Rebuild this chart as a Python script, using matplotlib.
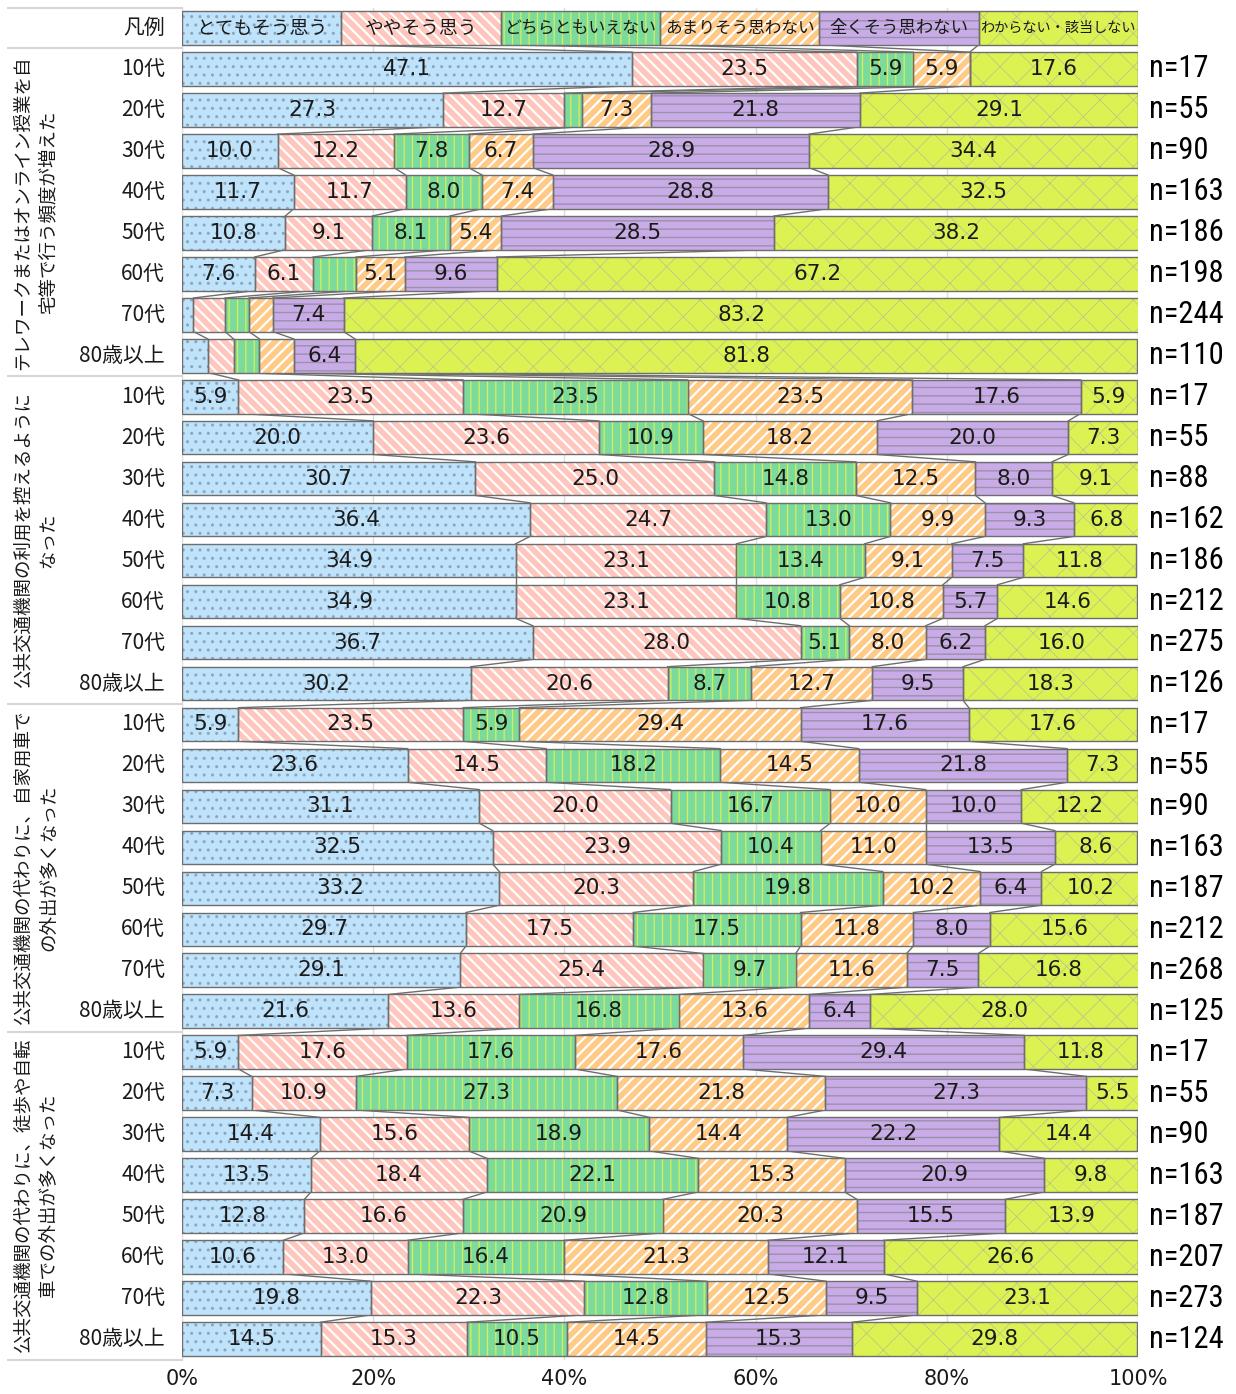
import numpy as np
import matplotlib as mpl
import matplotlib.pyplot as plt
import matplotlib.transforms as mtransforms

plt.rcParams['font.family'] = ['Noto Sans CJK JP', 'DejaVu Sans']

categories = ['とてもそう思う', 'ややそう思う', 'どちらともいえない',
              'あまりそう思わない', '全くそう思わない', 'わからない・該当しない']
ages = ['10代', '20代', '30代', '40代', '50代', '60代', '70代', '80歳以上']
groups = ['テレワークまたはオンライン授業を自\n宅等で行う頻度が増えた',
          '公共交通機関の利用を控えるように\nなった',
          '公共交通機関の代わりに、自家用車で\nの外出が多くなった',
          '公共交通機関の代わりに、徒歩や自転\n車での外出が多くなった']

telework = [[47.1, 23.5, 5.9, 5.9, 0.0, 17.6],
            [27.3, 12.7, 1.8, 7.3, 21.8, 29.1],
            [10.0, 12.2, 7.8, 6.7, 28.9, 34.4],
            [11.7, 11.7, 8.0, 7.4, 28.8, 32.5],
            [10.8, 9.1, 8.1, 5.4, 28.5, 38.2],
            [7.6, 6.1, 4.5, 5.1, 9.6, 67.2],
            [1.2, 3.3, 2.5, 2.5, 7.4, 83.2],
            [2.7, 2.7, 2.7, 3.6, 6.4, 81.8]]
transit = [[5.9, 23.5, 23.5, 23.5, 17.6, 5.9],
           [20.0, 23.6, 10.9, 18.2, 20.0, 7.3],
           [30.7, 25.0, 14.8, 12.5, 8.0, 9.1],
           [36.4, 24.7, 13.0, 9.9, 9.3, 6.8],
           [34.9, 23.1, 13.4, 9.1, 7.5, 11.8],
           [34.9, 23.1, 10.8, 10.8, 5.7, 14.6],
           [36.7, 28.0, 5.1, 8.0, 6.2, 16.0],
           [30.2, 20.6, 8.7, 12.7, 9.5, 18.3]]
car = [[5.9, 23.5, 5.9, 29.4, 17.6, 17.6],
       [23.6, 14.5, 18.2, 14.5, 21.8, 7.3],
       [31.1, 20.0, 16.7, 10.0, 10.0, 12.2],
       [32.5, 23.9, 10.4, 11.0, 13.5, 8.6],
       [33.2, 20.3, 19.8, 10.2, 6.4, 10.2],
       [29.7, 17.5, 17.5, 11.8, 8.0, 15.6],
       [29.1, 25.4, 9.7, 11.6, 7.5, 16.8],
       [21.6, 13.6, 16.8, 13.6, 6.4, 28.0]]
walk = [[5.9, 17.6, 17.6, 17.6, 29.4, 11.8],
        [7.3, 10.9, 27.3, 21.8, 27.3, 5.5],
        [14.4, 15.6, 18.9, 14.4, 22.2, 14.4],
        [13.5, 18.4, 22.1, 15.3, 20.9, 9.8],
        [12.8, 16.6, 20.9, 20.3, 15.5, 13.9],
        [10.6, 13.0, 16.4, 21.3, 12.1, 26.6],
        [19.8, 22.3, 12.8, 12.5, 9.5, 23.1],
        [14.5, 15.3, 10.5, 14.5, 15.3, 29.8]]

n_telework = [17, 55, 90, 163, 186, 198, 244, 110]
n_transit = [17, 55, 88, 162, 186, 212, 275, 126]
n_car = [17, 55, 90, 163, 187, 212, 268, 125]
n_walk = [17, 55, 90, 163, 187, 207, 273, 124]

colors = ['#bfe3fb', '#ffc6bd', '#7bdb9d', '#ffc986', '#c9abe8', '#dcf152']
hatches = ['..', '\\\\\\', '||', '///', '--', 'x']
hatch_colors = ['#8ea6bd', '#ffffff', '#dcee55', '#ffffff', '#9a92a8', '#b9c08e']
hatch_lw = [1.0, 1.6, 0.9, 1.6, 1.0, 0.5]
legend_sizes = [13.5, 13.5, 12.2, 12.0, 12.5, 10.2]

# rows: legend bar first, then 4 groups x 8 ages
vals = np.array([[100 / 6] * 6] + telework + transit + car + walk)
ns = n_telework + n_transit + n_car + n_walk
cum = np.hstack([np.zeros((len(vals), 1)), np.cumsum(vals, axis=1)])
ys = np.arange(len(vals))
h = 0.82
edge = '#6e6e6e'
txt = '#1a1a1a'

fig = plt.figure(figsize=(12.36, 13.94), dpi=100)
ax = fig.add_axes([182 / 1236, 1 - 1359.5 / 1394, (1138 - 182) / 1236, 1352 / 1394])

for x in range(0, 101, 20):
    ax.axvline(x, color='#dcdcdc', lw=1, zorder=0)

for k in range(6):
    with mpl.rc_context({'hatch.linewidth': hatch_lw[k]}):
        ax.barh(ys, vals[:, k], left=cum[:, k], height=h, color=colors[k],
                edgecolor=hatch_colors[k], hatch=hatches[k], lw=0, zorder=2)
    ax.barh(ys, vals[:, k], left=cum[:, k], height=h, fill=False,
            edgecolor=edge, lw=1, zorder=3)

# series lines between neighbouring bars
for i in range(len(vals) - 1):
    for k in range(1, 6):
        ax.plot([cum[i, k], cum[i + 1, k]], [i + h / 2, i + 1 - h / 2],
                color=edge, lw=1, zorder=1)

# legend row labels
for k, cat in enumerate(categories):
    ax.text(cum[0, k] + vals[0, k] / 2, 0, cat, ha='center', va='center',
            fontsize=legend_sizes[k], color=txt, zorder=4)

# value labels
for i in range(1, len(vals)):
    for k in range(6):
        v = vals[i, k]
        if v >= 5:
            ax.text(cum[i, k] + v / 2, i, f'{v:.1f}', ha='center', va='center',
                    fontsize=15.5, color=txt, zorder=4, family='DejaVu Sans')

lt = mtransforms.blended_transform_factory(fig.transFigure, ax.transData)
ax.text(165 / 1236, 0, '凡例', transform=lt, ha='right', va='center',
        fontsize=15, color=txt)
for g in range(4):
    for a, age in enumerate(ages):
        i = 1 + g * 8 + a
        ax.text(165 / 1236, i, age, transform=lt, ha='right', va='center',
                fontsize=15, color=txt)
        ax.text(1149 / 1236, i, f'n={ns[i - 1]}', transform=lt, ha='left',
                va='center', fontsize=22, color='black',
                family=['Roboto Condensed', 'Liberation Sans Narrow', 'DejaVu Sans'],
                fontstretch='condensed')
    ax.text(36 / 1236, 1 + g * 8 + 3.5, groups[g], transform=lt, rotation=90,
            ha='center', va='center', multialignment='center', fontsize=13.3,
            linespacing=1.5, color=txt)

for yb in [-0.5, 0.5, 8.5, 16.5, 24.5, 32.5]:
    ax.plot([8 / 1236, 182 / 1236], [yb, yb], transform=lt, color='#d6d6d6',
            lw=1.5, clip_on=False)

ax.set_xlim(0, 100)
ax.set_ylim(len(vals) - 0.5, -0.5)
ax.set_yticks([])
ax.set_xticks(range(0, 101, 20))
ax.set_xticklabels([f'{t}%' for t in range(0, 101, 20)], fontsize=15, color=txt,
                   family='DejaVu Sans')
ax.tick_params(axis='x', length=0, pad=7)
for s in ax.spines.values():
    s.set_visible(False)

fig.savefig('out.png', dpi=100)
